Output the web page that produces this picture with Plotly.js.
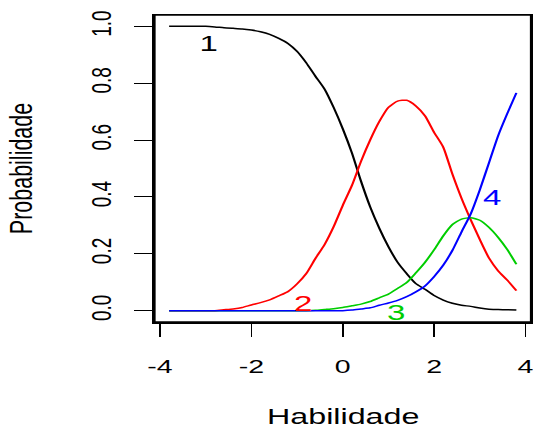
<!DOCTYPE html>
<html>
<head>
<meta charset="utf-8">
<script src="https://cdn.plot.ly/plotly-3.0.1.min.js"></script>
<style>
html, body { margin: 0; padding: 0; background: #fff; overflow: hidden; width: 535px; height: 428px; }
#chart { width: 535px; height: 428px; overflow: hidden; }
</style>
</head>
<body>
<div id="chart"></div>
<script>
// Ability grid (Habilidade)
const theta = [-3.8,-3.6,-3.4,-3.2,-3.0,-2.8,-2.6,-2.4,-2.2,-2.0,-1.8,-1.6,-1.4,-1.2,-1.0,-0.8,-0.6,-0.4,-0.2,0.0,
               0.2,0.4,0.6,0.8,1.0,1.2,1.4,1.6,1.8,2.0,2.2,2.4,2.6,2.8,3.0,3.2,3.4,3.6,3.8];
// Category probabilities
const cat1 = [1.0,1.0,1.0,1.0,1.0,0.998,0.995,0.993,0.991,0.987,0.981,0.972,0.958,0.940,0.912,0.872,0.825,0.78,0.715,0.64,
              0.555,0.455,0.365,0.29,0.225,0.17,0.13,0.095,0.075,0.053,0.037,0.026,0.019,0.015,0.009,0.005,0.004,0.003,0.002];
const cat2 = [0,0,0,0,0,0,0.003,0.006,0.011,0.02,0.028,0.038,0.052,0.067,0.094,0.13,0.183,0.232,0.295,0.37,
              0.44,0.525,0.60,0.665,0.715,0.737,0.74,0.72,0.685,0.627,0.575,0.48,0.395,0.32,0.25,0.185,0.14,0.107,0.07];
const cat3 = [0,0,0,0,0,0,0,0,0,0,0,0,0,0,0,0,0.001,0.004,0.007,0.011,
              0.017,0.023,0.032,0.045,0.058,0.078,0.099,0.133,0.17,0.214,0.263,0.303,0.322,0.327,0.318,0.293,0.258,0.215,0.163];
const cat4 = [0,0,0,0,0,0,0,0,0,0,0,0,0,0,0,0,0,0,0,0,
              0.002,0.006,0.01,0.019,0.027,0.036,0.049,0.066,0.087,0.12,0.16,0.212,0.277,0.34,0.425,0.52,0.615,0.693,0.766];

const labelText = ['1','2','3','4'];
const labelX = [-2.95, -0.87, 1.16, 3.25];
const labelY = [0.94, 0.026, -0.006, 0.397];

const xTicks = [-4,-2,0,2,4];
const xTickText = ['-4','-2','0','2','4'];
const yTicks = [0,0.2,0.4,0.6,0.8,1.0];
const yTickText = ['0.0','0.2','0.4','0.6','0.8','1.0'];

const xRange = [-4.12, 4.12];
const yRange = [-0.04, 1.04];

const colors = ['#000000','#FF0000','#00CD00','#0000FF'];
const series = [cat1, cat2, cat3, cat4];

const FONT = 'Liberation Sans, Arial, Helvetica, sans-serif';
const STRETCH = 1.5;          // the reference's text is horizontally stretched
const W = 535 / STRETCH, H = 428;
const M = {l: 102.9, r: 2.67, t: 14.6, b: 105.6, pad: 0};

const traces = series.map((s, i) => ({
  x: theta, y: s, type: 'scatter', mode: 'lines',
  line: {color: colors[i], width: 1.5, shape: 'spline', smoothing: 0.6},
  hoverinfo: 'skip', showlegend: false
}));

const annotations = labelText.map((t, i) => ({
  x: labelX[i], y: labelY[i], xref: 'x', yref: 'y', text: t, showarrow: false,
  font: {family: FONT, size: 22, color: colors[i]}, xanchor: 'center', yanchor: 'middle'
}));
// x-axis title placed as an annotation below the plot
annotations.push({
  x: 0.5, y: 0, xref: 'paper', yref: 'paper', yshift: -95, text: 'Habilidade', showarrow: false,
  font: {family: FONT, size: 21.5, color: '#000'}, xanchor: 'center', yanchor: 'middle'
});

// frame round the plotting region, in paper space
const shapes = [{
  type: 'rect', xref: 'paper', yref: 'paper', x0: 0, x1: 1, y0: 0, y1: 1,
  line: {color: '#000000', width: 1.5}, fillcolor: 'rgba(0,0,0,0)', layer: 'above'
}];

const layout = {
  width: W, height: H,
  margin: M,
  paper_bgcolor: '#ffffff', plot_bgcolor: '#ffffff',
  showlegend: false,
  font: {family: FONT, color: '#000'},
  xaxis: {
    range: xRange, autorange: false,
    tickmode: 'array', tickvals: xTicks, ticktext: xTickText,
    ticks: 'outside', ticklen: 13.5, tickwidth: 1, tickcolor: '#000',
    showline: true, mirror: true, linecolor: '#000', linewidth: 1.5,
    showgrid: false, zeroline: false,
    tickfont: {family: FONT, size: 19, color: '#000'},
    ticklabelstandoff: 13,
    automargin: false
  },
  yaxis: {
    range: yRange, autorange: false,
    tickmode: 'array', tickvals: yTicks, ticktext: yTickText,
    ticks: 'outside', ticklen: 12, tickwidth: 1, tickcolor: '#000',
    showline: true, mirror: true, linecolor: '#000', linewidth: 1.5,
    showgrid: false, zeroline: false,
    tickangle: -90,
    tickfont: {family: FONT, size: 19, color: '#000'},
    ticklabelstandoff: 8,
    title: {text: 'Probabilidade', font: {family: FONT, size: 21.5, color: '#000'}, standoff: 29},
    automargin: false
  },
  shapes: shapes,
  annotations: annotations
};

Plotly.newPlot('chart', traces, layout, {displayModeBar: false, staticPlot: true}).then(gd => {
  gd.querySelectorAll('path').forEach(p => { p.style.vectorEffect = 'none'; });
  // stretch the drawn SVG horizontally to match the reference's aspect
  const cont = gd.querySelector('.svg-container');
  if (cont) { cont.style.width = '535px'; }
  gd.querySelectorAll('svg.main-svg').forEach(svg => {
    svg.setAttribute('viewBox', '0 0 ' + W + ' ' + H);
    svg.setAttribute('preserveAspectRatio', 'none');
    svg.setAttribute('width', 535);
    svg.setAttribute('height', H);
    svg.style.width = '535px';
  });
});
</script>
</body>
</html>
